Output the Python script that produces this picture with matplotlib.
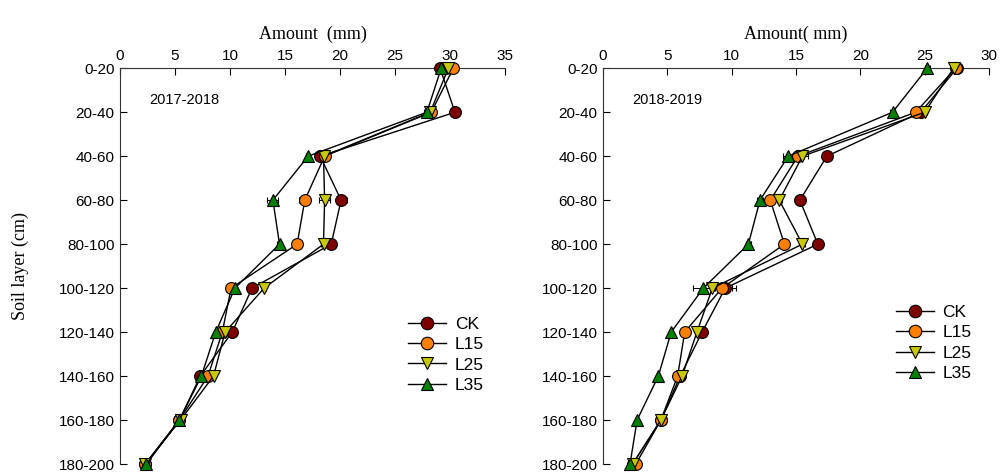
import matplotlib.pyplot as plt
from matplotlib.lines import Line2D
import numpy as np

layers = ['0-20', '20-40', '40-60', '60-80', '80-100', '100-120',
          '120-140', '140-160', '160-180', '180-200']
treatments = ['CK', 'L15', 'L25', 'L35']

# 2017-2018 soil water amount (mm) per layer
ck_1718 = [29.1, 30.45, 18.2, 20.1, 19.2, 12.0, 10.2, 7.3, 5.4, 2.3]
l15_1718 = [30.3, 28.3, 18.6, 16.8, 16.1, 10.1, 9.3, 8.0, 5.4, 2.3]
l25_1718 = [29.85, 28.2, 18.5, 18.6, 18.5, 13.1, 9.55, 8.5, 5.5, 2.3]
l35_1718 = [29.2, 27.9, 17.1, 13.9, 14.5, 10.45, 8.7, 7.4, 5.4, 2.4]
err_1718 = [0.1, 0.3, 0.2, 0.5, 0.2, 0.2, 0.1, 0.1, 0.1, 0.1]

# 2018-2019 soil water amount (mm) per layer
ck_1819 = [27.5, 24.7, 17.4, 15.3, 16.7, 9.5, 7.7, 6.0, 4.5, 2.3]
l15_1819 = [27.4, 24.3, 15.15, 13.0, 14.1, 9.25, 6.35, 5.8, 4.5, 2.55]
l25_1819 = [27.25, 25.0, 15.5, 13.7, 15.5, 8.5, 7.3, 6.15, 4.5, 2.3]
l35_1819 = [25.2, 22.5, 14.4, 12.2, 11.3, 7.8, 5.3, 4.3, 2.65, 2.1]
err_1819 = [0.2, 0.2, 0.4, 0.2, 0.2, 0.8, 0.1, 0.1, 0.1, 0.1]

colors = ['#7f0000', '#ff8000', '#c8c800', '#007f00']
markers = ['o', 'o', 'v', '^']

plt.rcParams['font.family'] = ['Liberation Sans', 'DejaVu Sans']

fig = plt.figure(figsize=(10, 4.74), dpi=100)
ax1 = fig.add_axes([0.120, 0.021, 0.385, 0.835])
ax2 = fig.add_axes([0.603, 0.021, 0.386, 0.835])

def draw_panel(ax, series, err, xmax, title, label, legend_pos):
    y = np.arange(len(layers))
    handles = []
    for vals, c, m, name in zip(series, colors, markers, treatments):
        ax.errorbar(vals, y, xerr=err, color='black', lw=1.0, elinewidth=0.7,
                    capsize=2.5, marker=m, markersize=8.5, markerfacecolor=c,
                    markeredgecolor='black', markeredgewidth=0.8,
                    clip_on=False, zorder=3)
        handles.append(Line2D([], [], color='black', lw=1.0, marker=m,
                              markersize=9, markerfacecolor=c,
                              markeredgecolor='black', markeredgewidth=0.8))
    ax.set_xlim(0, xmax)
    ax.set_ylim(len(layers) - 1, 0)
    ax.set_yticks(y)
    ax.set_yticklabels(layers, fontsize=11)
    ax.set_xticks(np.arange(0, xmax + 1, 5))
    ax.xaxis.tick_top()
    ax.tick_params(axis='x', labelsize=11, direction='in', length=5, pad=4)
    ax.tick_params(axis='y', direction='in', length=5, pad=4)
    for s in ['right', 'bottom']:
        ax.spines[s].set_visible(False)
    ax.spines['left'].set_color('#333333')
    ax.spines['top'].set_color('#333333')
    ax.set_xlabel(title, family='Liberation Serif', fontsize=13, labelpad=7)
    ax.xaxis.set_label_position('top')
    ax.text(0.075, 0.92, label, transform=ax.transAxes, fontsize=10.5,
            ha='left', va='center')
    ax.legend(handles, treatments, loc='upper left', bbox_to_anchor=legend_pos,
              frameon=False, fontsize=12.5, handlelength=2.2,
              handletextpad=0.5, labelspacing=0.3, borderaxespad=0)

draw_panel(ax1, [ck_1718, l15_1718, l25_1718, l35_1718], err_1718, 35,
           'Amount  (mm)', '2017-2018', (0.73, 0.39))
draw_panel(ax2, [ck_1819, l15_1819, l25_1819, l35_1819], err_1819, 30,
           'Amount( mm)', '2018-2019', (0.74, 0.42))

ax1.set_ylabel('Soil layer (cm)', family='Liberation Serif', fontsize=13,
               labelpad=21)

fig.savefig('out.png', dpi=100)
